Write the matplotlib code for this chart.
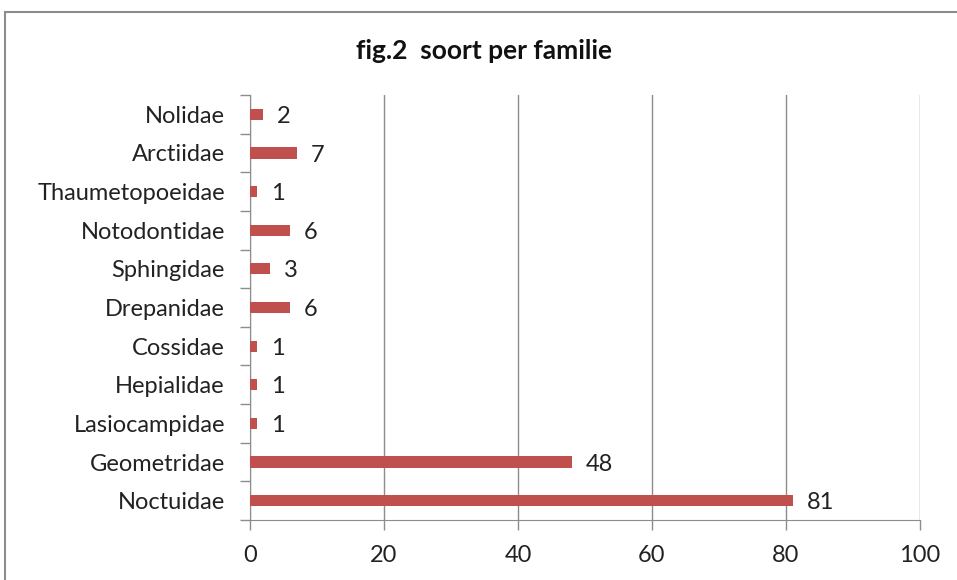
import matplotlib.pyplot as plt
from matplotlib.patches import Rectangle

# gegevens
families = ['Noctuidae', 'Geometridae', 'Lasiocampidae', 'Hepialidae', 'Cossidae',
            'Drepanidae', 'Sphingidae', 'Notodontidae', 'Thaumetopoeidae',
            'Arctiidae', 'Nolidae']
soorten = [81, 48, 1, 1, 1, 6, 3, 6, 1, 7, 2]

plt.rcParams['font.family'] = ['Lato', 'DejaVu Sans']

fig = plt.figure(figsize=(9.57, 5.80), dpi=100)
ax = fig.add_axes([0.2612, 0.1034, 0.7001, 0.7328])

# rand rond de grafiek
fig.patches.append(Rectangle((5 / 957, -0.05), 1.2, 1 - 12 / 580 + 0.05,
                             transform=fig.transFigure, fill=False,
                             edgecolor='#8c8c8c', linewidth=1.5))

pos = list(range(len(families)))
ax.barh(pos, soorten, height=0.29, color='#C0504D', zorder=3)

for p, v in zip(pos, soorten):
    ax.annotate(str(v), (v, p), xytext=(10, -1.5), textcoords='offset points',
                va='center', ha='left', fontsize=17, color='#222222')

ax.set_xlim(0, 100)
ax.set_ylim(-0.5, len(families) - 0.5)
ax.set_xticks([0, 20, 40, 60, 80, 100])
ax.tick_params(axis='x', labelsize=17, length=7, color='#8c8c8c', width=1,
               pad=11, labelcolor='#222222')

# labels in het midden, streepjes op de grenzen
ax.set_yticks(pos)
ax.set_yticklabels(families, fontsize=17, color='#222222', va='center_baseline')
ax.set_yticks([p - 0.5 for p in pos] + [len(families) - 0.5], minor=True)
ax.tick_params(axis='y', which='major', length=0, pad=18)
ax.tick_params(axis='y', which='minor', length=7, color='#8c8c8c', width=1)

ax.grid(axis='x', color='#8c8c8c', linewidth=1, zorder=0)
for s in ['top', 'right']:
    ax.spines[s].set_visible(False)
for s in ['left', 'bottom']:
    ax.spines[s].set_color('#8c8c8c')

fig.text(0.506, 0.912, 'fig.2  soort per familie', ha='center', va='center',
         fontsize=19, fontweight='bold', color='#111111')

fig.savefig('out.png', dpi=100)
